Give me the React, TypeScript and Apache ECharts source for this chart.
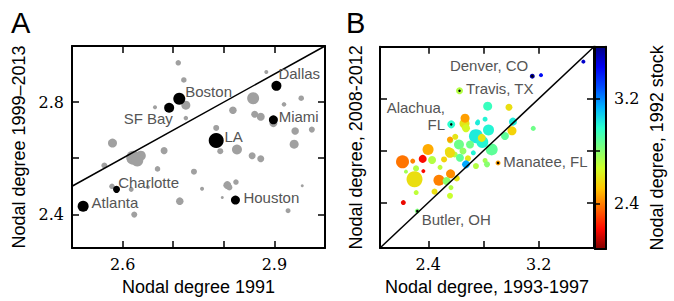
import React, { useEffect, useRef } from 'react';
import * as echarts from 'echarts';

// ---------- Panel A data ----------
const aGrayX = [2.710, 2.721, 2.725, 2.664, 2.725, 2.884, 2.858, 2.919, 2.953, 2.818, 2.861, 2.873, 2.898, 2.941, 2.974, 2.785, 2.580, 2.621, 2.636, 2.629, 2.682, 2.793, 2.826, 2.856, 2.873, 2.939, 2.564, 2.669, 2.741, 2.579, 2.617, 2.650, 2.713, 2.623, 2.757, 2.807, 2.824, 2.797, 2.927, 2.955, 2.811];
const aGrayY = [2.940, 2.879, 2.789, 2.782, 2.743, 2.907, 2.814, 2.792, 2.814, 2.771, 2.757, 2.748, 2.725, 2.697, 2.702, 2.708, 2.654, 2.602, 2.609, 2.592, 2.627, 2.625, 2.631, 2.609, 2.598, 2.650, 2.574, 2.562, 2.552, 2.500, 2.489, 2.497, 2.447, 2.399, 2.491, 2.504, 2.515, 2.460, 2.413, 2.502, 2.496];
const aGraySize = [5.5, 5.5, 9, 4, 4.5, 4, 12, 4.5, 5.5, 7.5, 7, 8, 8, 7.5, 6, 6, 9, 14, 10, 12, 7, 6, 10, 7, 7, 9, 6, 5.5, 6, 5.5, 5, 4, 7.5, 6, 4, 8, 5.5, 3, 5, 3, 6];

const aCityNames = ['Boston', 'SF Bay', 'Dallas', 'Miami', 'LA', 'Charlotte', 'Atlanta', 'Houston'];
const aCityX = [2.712, 2.692, 2.904, 2.898, 2.785, 2.588, 2.522, 2.823];
const aCityY = [2.812, 2.780, 2.858, 2.737, 2.663, 2.489, 2.429, 2.451];
const aCitySize = [12, 10, 10, 9, 15, 7, 11, 9];

const aXTicks = [2.6, 2.7, 2.8, 2.9];
const aXLabels = [2.6, 2.9];
const aYTicks = [2.4, 2.6, 2.8];
const aYLabels = [2.4, 2.8];

// ---------- Panel B data ----------
const bX = [3.216, 3.523, 2.830, 2.984, 2.662, 2.666, 2.760, 2.811, 2.745, 2.836, 3.013, 3.006, 3.160, 2.955, 2.859, 2.595, 2.622, 2.559, 2.548, 2.591, 2.651, 2.687, 2.398, 2.213, 2.287, 2.359, 2.427, 2.364, 2.311, 2.300, 2.238, 2.477, 2.561, 2.532, 2.445, 2.312, 2.557, 2.564, 2.606, 2.557, 2.629, 2.673, 2.745, 2.726, 2.811, 2.791, 2.219, 2.673, 2.756, 2.787, 2.702, 2.514, 2.485, 2.557, 2.825];
const bY = [3.381, 3.485, 3.142, 3.134, 3.008, 3.050, 3.025, 3.042, 2.911, 2.958, 3.023, 2.952, 2.971, 2.912, 2.809, 2.906, 2.847, 2.878, 2.796, 2.770, 2.797, 2.740, 2.809, 2.714, 2.719, 2.736, 2.728, 2.642, 2.663, 2.579, 2.638, 2.571, 2.621, 2.566, 2.484, 2.477, 2.452, 2.515, 2.586, 2.783, 2.745, 2.694, 2.681, 2.783, 2.724, 2.866, 2.400, 2.972, 3.013, 2.898, 2.847, 2.732, 2.671, 2.885, 2.694];
const bSize = [4, 4, 9, 7, 10, 9, 4, 5, 14, 11, 8, 9, 5, 8, 12, 6, 10, 6, 8, 6, 7, 6, 11, 13, 5, 8, 8, 4, 6, 16, 4, 11, 9, 8, 6, 5, 6, 5, 6, 10, 8, 8, 6, 5, 5, 12, 5, 8, 5, 8, 8, 6, 5, 6, 6];
const bStock = [3.42, 3.5, 2.95, 2.58, 2.6, 2.45, 3.0, 3.0, 3.02, 3.0, 3.02, 2.55, 2.85, 2.88, 2.88, 2.6, 2.85, 2.7, 2.62, 2.72, 2.78, 2.6, 2.47, 2.38, 2.4, 2.2, 2.72, 2.2, 2.72, 2.58, 2.75, 2.4, 2.42, 2.8, 2.58, 2.7, 2.68, 2.72, 2.6, 2.57, 2.88, 3.15, 2.72, 3.0, 2.75, 3.0, 2.18, 2.65, 3.02, 2.6, 2.85, 2.55, 2.7, 2.45, 2.8];

const bCityNames = ['Denver, CO', 'Travis, TX', 'Alachua,\nFL', 'Manatee, FL', 'Butler, OH'];
const bCityX = [3.153, 2.626, 2.566, 2.905, 2.320];
const bCityY = [3.373, 3.261, 3.002, 2.705, 2.334];
const bCitySize = [5, 7, 8, 5, 5];
const bCityStock = [3.55, 2.72, 2.98, 2.45, 2.82];

const bTicks = [2.4, 2.8, 3.2];
const bXLabels = [2.4, 3.2];
const cbLabels = [2.4, 3.2];

const jetR = ['#800000', '#ff0900', '#ff6800', '#ffc600', '#ceff29', '#7bff7b', '#29ffce', '#00b3ff', '#004dff', '#0000f4', '#000080'];

// label placement (style, not data)
const labelPlace: Record<string, { pos: string; off: number[] }> = {
  'Boston': { pos: 'right', off: [0, -7.3] },
  'SF Bay': { pos: 'left', off: [8.7, 10.3] },
  'Dallas': { pos: 'right', off: [-3, -12] },
  'Miami': { pos: 'right', off: [0.8, -3.3] },
  'LA': { pos: 'right', off: [0.8, -4.3] },
  'Charlotte': { pos: 'right', off: [-1.9, -7.3] },
  'Atlanta': { pos: 'right', off: [2.9, -3.4] },
  'Houston': { pos: 'right', off: [3.5, -2.6] },
  'Denver, CO': { pos: 'left', off: [-1.5, -10.6] },
  'Travis, TX': { pos: 'right', off: [3, -2.7] },
  'Alachua,\nFL': { pos: 'left', off: [-2.2, -8.5] },
  'Manatee, FL': { pos: 'right', off: [2.8, -1.8] },
  'Butler, OH': { pos: 'right', off: [1.9, 8] },
};

const SANS = 'Liberation Sans';
const SERIF = 'DejaVu Serif';

function axis(gridIndex: number, position: string, min: number, max: number, ticks: number[], labels: number[], extra: any = {}) {
  return {
    type: 'value',
    gridIndex,
    position,
    min,
    max,
    splitLine: { show: false },
    axisLine: { show: true, onZero: false, lineStyle: { color: '#000', width: 2 } },
    axisTick: ticks.length ? { show: true, inside: true, length: 7, customValues: ticks, lineStyle: { color: '#000', width: 1.5 } } : { show: false },
    axisLabel: labels.length
      ? { show: true, customValues: labels, fontFamily: SERIF, fontSize: 16, color: '#000', margin: 8, formatter: (v: number) => v.toFixed(1) }
      : { show: false },
    nameTextStyle: { fontFamily: SANS, fontSize: 18, color: '#000' },
    nameLocation: 'middle',
    ...extra,
  };
}

function labelFor(name: string) {
  const p = labelPlace[name];
  return {
    show: true,
    formatter: name,
    position: p.pos,
    distance: 0,
    offset: p.off,
    fontFamily: SANS,
    fontSize: 15,
    color: '#555',
    lineHeight: 17,
    align: p.pos === 'left' ? 'right' : 'left',
  };
}

export default function App() {
  const ref = useRef<HTMLDivElement>(null);
  useEffect(() => {
    if (!ref.current) return;
    const chart = echarts.init(ref.current, undefined, { renderer: 'svg' });
    const option: any = {
      animation: false,
      backgroundColor: '#fff',
      grid: [
        { left: 72, top: 46, width: 253, height: 203 },
        { left: 380, top: 46.7, width: 214, height: 202.3 },
        { left: 595, top: 46.7, width: 11, height: 202.3 },
      ],
      xAxis: [
        axis(0, 'bottom', 2.5, 3.0, aXTicks, aXLabels, { name: 'Nodal degree 1991', nameGap: 30 }),
        axis(0, 'top', 2.5, 3.0, aXTicks, []),
        axis(1, 'bottom', 2.05, 3.6, bTicks, bXLabels, { name: 'Nodal degree, 1993-1997', nameGap: 30 }),
        axis(1, 'top', 2.05, 3.6, bTicks, []),
        axis(2, 'bottom', 0, 1, [], [], { z: 10 }),
        axis(2, 'top', 0, 1, [], [], { z: 10 }),
      ],
      yAxis: [
        axis(0, 'left', 2.28, 3.0, aYTicks, aYLabels, { name: 'Nodal degree 1999\u20132013', nameGap: 44 }),
        axis(0, 'right', 2.28, 3.0, aYTicks, []),
        axis(1, 'left', 2.05, 3.6, bTicks, [], { name: 'Nodal degree, 2008-2012', nameGap: 15 }),
        axis(1, 'right', 2.05, 3.6, bTicks, []),
        { ...axis(2, 'left', 2.05, 3.6, bTicks, [], { z: 10 }), axisTick: { show: true, inside: true, length: 5, customValues: bTicks, lineStyle: { color: '#000', width: 1.5 } } },
        axis(2, 'right', 2.05, 3.6, [], cbLabels, { z: 10, name: 'Nodal degree, 1992 stock', nameGap: 42 }),
      ],
      visualMap: [
        {
          type: 'continuous',
          min: 2.05,
          max: 3.6,
          dimension: 3,
          seriesIndex: 3,
          inRange: { color: jetR },
          calculable: false,
          hoverLink: false,
          orient: 'vertical',
          left: 595,
          top: 46.7,
          itemWidth: 11,
          itemHeight: 202.3,
          padding: 0,
          text: null,
        },
      ],
      graphic: [
        { type: 'text', left: 11, top: 8, style: { text: 'A', font: '29px "Liberation Sans"', fill: '#000' } },
        { type: 'text', left: 346, top: 8, style: { text: 'B', font: '29px "Liberation Sans"', fill: '#000' } },
      ],
      series: [
        {
          type: 'scatter',
          xAxisIndex: 0,
          yAxisIndex: 0,
          data: aGrayX.map((x, i) => [x, aGrayY[i], aGraySize[i]]),
          symbolSize: (v: number[]) => v[2],
          itemStyle: { color: '#a0a0a0', opacity: 1 },
          z: 2,
        },
        {
          type: 'line',
          xAxisIndex: 0,
          yAxisIndex: 0,
          data: [[2.5, 2.5], [3.0, 3.0]],
          symbol: 'none',
          lineStyle: { color: '#000', width: 1.5 },
          z: 3,
        },
        {
          type: 'scatter',
          xAxisIndex: 0,
          yAxisIndex: 0,
          data: aCityNames.map((n, i) => ({ name: n, value: [aCityX[i], aCityY[i], aCitySize[i]], label: labelFor(n) })),
          symbolSize: (v: number[]) => v[2],
          itemStyle: { color: '#000', opacity: 1 },
          z: 4,
        },
        {
          type: 'scatter',
          xAxisIndex: 2,
          yAxisIndex: 2,
          data: [
            ...bX.map((x, i) => [x, bY[i], bSize[i], bStock[i]]),
            ...bCityNames.map((n, i) => ({ name: n, value: [bCityX[i], bCityY[i], bCitySize[i], bCityStock[i]], label: labelFor(n) })),
          ],
          symbolSize: (v: number[]) => v[2],
          itemStyle: { opacity: 1 },
          z: 2,
        },
        {
          type: 'line',
          xAxisIndex: 2,
          yAxisIndex: 2,
          data: [[2.05, 2.05], [3.6, 3.6]],
          symbol: 'none',
          lineStyle: { color: '#000', width: 1.5 },
          z: 3,
        },
        {
          type: 'scatter',
          xAxisIndex: 2,
          yAxisIndex: 2,
          data: bCityX.map((x, i) => [x, bCityY[i]]),
          symbolSize: 2.5,
          itemStyle: { color: '#000', opacity: 1 },
          z: 4,
        },
      ],
    };
    chart.setOption(option);
    return () => chart.dispose();
  }, []);
  return <div ref={ref} style={{ position: 'absolute', left: 0, top: 0, width: 674, height: 301 }} />;
}
